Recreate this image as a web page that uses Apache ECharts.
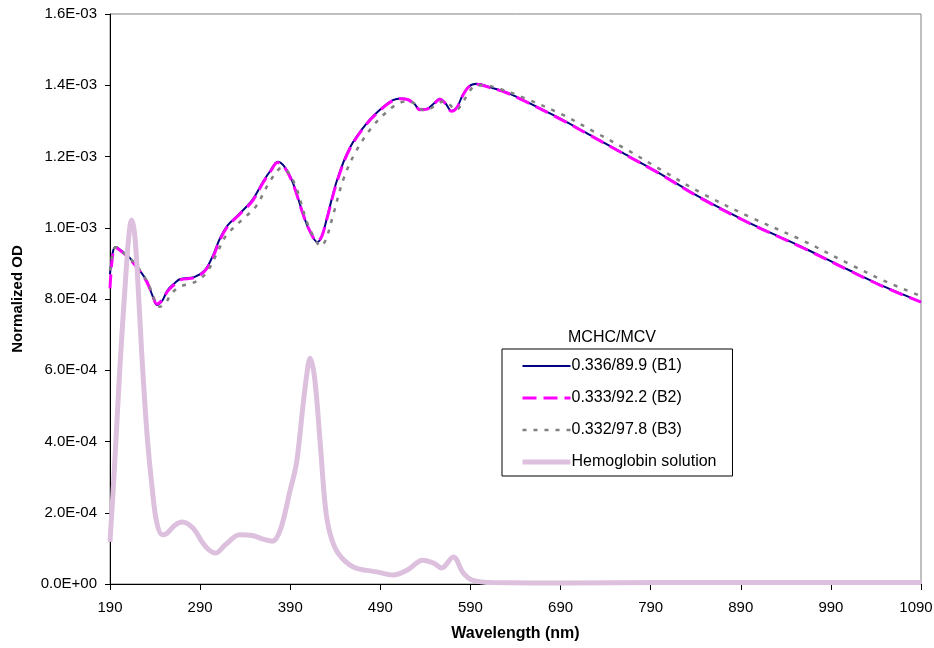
<!DOCTYPE html>
<html>
<head>
<meta charset="utf-8">
<style>
  html, body { margin: 0; padding: 0; background: #fff; }
  #chart { width: 934px; height: 648px; }
</style>
<script src="https://cdn.jsdelivr.net/npm/echarts@6/dist/echarts.min.js"></script>
</head>
<body>
<div id="chart"></div>
<script>
// wavelength (nm) / normalized OD pairs
const b1 = [
  [190, 8.7e-4], [193, 9.3e-4], [196, 9.46e-4], [203, 9.35e-4], [212, 9.15e-4],
  [223, 8.8e-4], [231, 8.5e-4], [237, 8.1e-4], [242, 7.83e-4], [248, 7.95e-4],
  [254, 8.25e-4], [262, 8.45e-4], [268, 8.56e-4], [284, 8.62e-4], [295, 8.8e-4],
  [303, 9.15e-4], [312, 9.7e-4], [321, 1.008e-3], [334, 1.04e-3], [348, 1.078e-3],
  [360, 1.13e-3], [368, 1.16e-3], [376, 1.185e-3], [384, 1.17e-3], [393, 1.126e-3],
  [404, 1.041e-3], [411, 9.94e-4], [420, 9.6e-4], [425, 9.75e-4], [431, 1.03e-3],
  [442, 1.134e-3], [456, 1.224e-3], [475, 1.294e-3], [493, 1.339e-3], [504, 1.358e-3],
  [512, 1.363e-3], [520, 1.361e-3], [527, 1.35e-3], [534, 1.332e-3], [542, 1.334e-3],
  [550, 1.35e-3], [556, 1.362e-3], [562, 1.35e-3], [569, 1.328e-3], [575, 1.338e-3],
  [581, 1.37e-3], [588, 1.396e-3], [597, 1.404e-3], [612, 1.394e-3], [630, 1.38e-3],
  [648, 1.359e-3], [686, 1.311e-3], [723, 1.26e-3], [759, 1.21e-3], [797, 1.157e-3],
  [845, 1.085e-3], [900, 1.013e-3], [956, 9.48e-4], [1011, 8.8e-4], [1048, 8.36e-4],
  [1090, 7.92e-4]
]
const b2 = [
  [190, 8.3e-4], [193, 9.25e-4], [196, 9.44e-4], [203, 9.33e-4], [212, 9.12e-4],
  [223, 8.78e-4], [231, 8.47e-4], [237, 8.12e-4], [242, 7.86e-4], [248, 7.97e-4],
  [254, 8.22e-4], [262, 8.42e-4], [268, 8.54e-4], [284, 8.6e-4], [295, 8.78e-4],
  [303, 9.1e-4], [312, 9.66e-4], [321, 1.005e-3], [334, 1.038e-3], [348, 1.075e-3],
  [360, 1.127e-3], [368, 1.158e-3], [376, 1.183e-3], [384, 1.168e-3], [393, 1.124e-3],
  [404, 1.04e-3], [411, 9.95e-4], [420, 9.62e-4], [425, 9.76e-4], [431, 1.028e-3],
  [442, 1.13e-3], [456, 1.221e-3], [475, 1.292e-3], [493, 1.337e-3], [504, 1.357e-3],
  [512, 1.362e-3], [520, 1.36e-3], [527, 1.349e-3], [534, 1.331e-3], [542, 1.333e-3],
  [550, 1.349e-3], [556, 1.361e-3], [562, 1.349e-3], [569, 1.327e-3], [575, 1.337e-3],
  [581, 1.369e-3], [588, 1.395e-3], [597, 1.403e-3], [612, 1.393e-3], [630, 1.379e-3],
  [648, 1.358e-3], [686, 1.31e-3], [723, 1.259e-3], [759, 1.209e-3], [797, 1.156e-3],
  [845, 1.084e-3], [900, 1.012e-3], [956, 9.47e-4], [1011, 8.79e-4], [1048, 8.35e-4],
  [1090, 7.91e-4]
]
const b3 = [
  [190, 8.8e-4], [194, 9.4e-4], [197, 9.45e-4], [205, 9.3e-4], [214, 9.1e-4],
  [225, 8.75e-4], [233, 8.4e-4], [239, 8.0e-4], [245, 7.78e-4], [252, 7.9e-4],
  [258, 8.15e-4], [268, 8.35e-4], [282, 8.45e-4], [292, 8.6e-4], [300, 8.85e-4],
  [309, 9.3e-4], [318, 9.75e-4], [327, 1.0e-3], [340, 1.03e-3], [352, 1.06e-3],
  [365, 1.12e-3], [373, 1.15e-3], [380, 1.168e-3], [388, 1.155e-3], [397, 1.11e-3],
  [408, 1.02e-3], [416, 9.75e-4], [424, 9.48e-4], [430, 9.7e-4], [437, 1.03e-3],
  [449, 1.136e-3], [462, 1.21e-3], [480, 1.28e-3], [497, 1.325e-3], [511, 1.35e-3],
  [522, 1.355e-3], [530, 1.345e-3], [538, 1.33e-3], [546, 1.335e-3], [555, 1.35e-3],
  [561, 1.355e-3], [567, 1.345e-3], [574, 1.33e-3], [580, 1.345e-3], [587, 1.375e-3],
  [595, 1.398e-3], [605, 1.4e-3], [620, 1.392e-3], [650, 1.364e-3], [690, 1.32e-3],
  [727, 1.27e-3], [763, 1.22e-3], [800, 1.165e-3], [848, 1.095e-3], [903, 1.027e-3],
  [958, 9.65e-4], [1013, 8.95e-4], [1050, 8.5e-4], [1090, 8.08e-4]
]
const hemo = [
  [190, 1.18e-4], [195, 3.28e-4], [201, 6.09e-4], [207, 8.45e-4], [211, 9.8e-4],
  [214, 1.022e-3], [217, 9.9e-4], [220, 8.9e-4], [225, 6.57e-4], [231, 4.24e-4],
  [237, 2.64e-4], [242, 1.71e-4], [248, 1.38e-4], [253, 1.42e-4], [262, 1.65e-4],
  [270, 1.74e-4], [282, 1.57e-4], [293, 1.15e-4], [300, 9.5e-5], [307, 8.7e-5],
  [318, 1.1e-4], [334, 1.38e-4], [348, 1.36e-4], [360, 1.26e-4], [370, 1.2e-4],
  [379, 1.52e-4], [390, 2.64e-4], [397, 3.4e-4], [404, 4.97e-4], [409, 6.0e-4],
  [412, 6.34e-4], [417, 5.8e-4], [423, 4.04e-4], [429, 2.16e-4], [434, 1.43e-4],
  [443, 8.7e-5], [460, 4.8e-5], [486, 3.4e-5], [504, 2.5e-5], [520, 3.9e-5],
  [537, 6.7e-5], [549, 5.9e-5], [558, 4.5e-5], [571, 7.6e-5], [582, 3.1e-5],
  [592, 1.1e-5], [615, 4e-6], [700, 3e-6], [800, 4e-6], [900, 4e-6],
  [1000, 4e-6], [1090, 4e-6]
]
const seriesNames = ['0.336/89.9 (B1)', '0.333/92.2 (B2)', '0.332/97.8 (B3)', 'Hemoglobin solution']

// x axis starts at 190 with ticks every 100, so plot offsets from 190
const X0 = 190
const X_MAX = 900
const shift = arr => arr.map(p => [p[0] - X0, p[1]])

const sci = v => {
  const [m, e] = v.toExponential(1).split('e')
  return m + 'E' + e[0] + e.slice(1).padStart(2, '0')
}

const font = 'Liberation Sans, Arial, sans-serif'
const chart = echarts.init(document.getElementById('chart'))

const styles = [
  { color: '#000080', width: 2, type: 'solid' },
  { color: '#FF00FF', width: 3, type: [14, 7] },
  { color: '#808080', width: 2.5, type: [4, 7] },
  { color: '#DCC0DE', width: 5, type: 'solid' }
]

const lineSeries = (i, data) => ({
  name: seriesNames[i],
  type: 'line',
  data: shift(data),
  symbol: 'none',
  smooth: 0.35,
  z: 2 + i,
  lineStyle: styles[i],
  itemStyle: { color: styles[i].color }
})

chart.setOption({
  animation: false,
  grid: {
    left: 110, right: 13, top: 14, bottom: 64,
    outerBoundsMode: 'none',
    containLabel: false,
    show: true, borderColor: '#808080', borderWidth: 1
  },
  xAxis: {
    type: 'value',
    min: 0, max: X_MAX, interval: 100,
    name: 'Wavelength (nm)',
    nameLocation: 'middle',
    nameGap: 42,
    nameTextStyle: { fontFamily: font, fontSize: 16, fontWeight: 'bold', color: '#000' },
    axisLine: { lineStyle: { color: '#000', width: 1 } },
    axisTick: { length: 6, lineStyle: { color: '#000' } },
    axisLabel: {
      // last label nudged left so it stays inside the page
      formatter: v => v === X_MAX ? '{last|' + (v + X0) + '}' : String(v + X0),
      rich: { last: { fontFamily: font, fontSize: 15, color: '#000', padding: [0, 10, 0, 0] } },
      fontFamily: font, fontSize: 15, color: '#000', margin: 16
    },
    splitLine: { show: false }
  },
  yAxis: {
    type: 'value',
    min: 0, max: 1.6e-3, interval: 2e-4,
    name: 'Normalized OD',
    nameLocation: 'middle',
    nameGap: 85,
    nameTextStyle: { fontFamily: font, fontSize: 15, fontWeight: 'bold', color: '#000' },
    axisLine: { show: true, lineStyle: { color: '#000', width: 1 } },
    axisTick: { show: true, length: 5, lineStyle: { color: '#000' } },
    axisLabel: { formatter: sci, fontFamily: font, fontSize: 15, color: '#000', margin: 13 },
    splitLine: { show: false }
  },
  legend: {
    orient: 'vertical',
    left: 502, top: 349,
    padding: [9, 16, 6, 18],
    itemWidth: 48, itemHeight: 14, itemGap: 16,
    borderColor: '#000', borderWidth: 1,
    itemStyle: { opacity: 0 },
    textStyle: { fontFamily: font, fontSize: 16, color: '#000', padding: [0, 0, 0, -4] },
    data: seriesNames.map((name, i) => ({ name, lineStyle: { width: styles[i].width, type: styles[i].type } }))
  },
  graphic: [{
    type: 'text',
    left: 568, top: 330,
    style: { text: 'MCHC/MCV', font: '16px ' + font, fill: '#000' }
  }],
  series: [
    lineSeries(0, b1),
    lineSeries(1, b2),
    lineSeries(2, b3),
    lineSeries(3, hemo)
  ]
})
</script>
</body>
</html>
